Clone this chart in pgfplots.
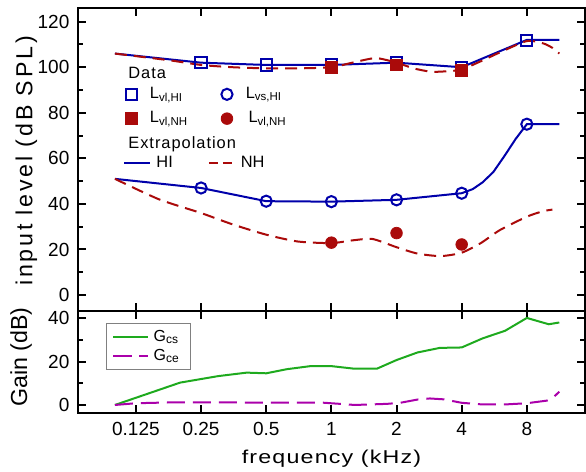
\documentclass[border=0pt]{standalone}
\usepackage{fontspec}
\setmainfont{Liberation Sans}
\usepackage{pgfplots}
\pgfplotsset{compat=1.18}
\definecolor{cblue}{RGB}{0,0,170}
\definecolor{cred}{RGB}{170,10,10}
\definecolor{cgreen}{RGB}{30,170,30}
\definecolor{cmag}{RGB}{170,0,170}
\begin{document}
\begin{tikzpicture}
\useasboundingbox (0,0) rectangle (293pt,236pt);
% ---------------- upper panel ----------------
\begin{axis}[
  scale only axis, width=253.5pt, height=151.5pt,
  at={(39pt,80.5pt)}, anchor=south west,
  xmode=log, log basis x=2, xmin=0.0675, xmax=14.85,
  xtick={0.125,0.25,0.5,1,2,4,8},
  minor x tick num=0,
  tick align=inside,
  major tick length=4pt, minor tick length=2.5pt,
  axis line style={line width=1.2pt},
  every tick/.style={line width=1pt, black},
  /pgf/number format/assume math mode=true,
  tick label style={font=\fontsize{9.5}{11}\selectfont},
  yticklabel style={xshift=-0.8pt},
  ymin=-7, ymax=126,
  ytick={0,20,...,120}, minor ytick={10,30,...,110},
  xticklabels={},
  ylabel={\fontsize{11.6}{13}\selectfont\addfontfeature{LetterSpace=12}input level (dB SPL)},
  ylabel style={at={(axis description cs:-0.102,0.495)}, anchor=center},
  legend columns=2,
  legend style={draw=none, fill=none, font=\fontsize{8.2}{9}\selectfont,
    at={(axis description cs:0.0927,0.675)}, anchor=west, inner sep=0pt,
    row sep=4pt, nodes={inner ysep=0.5pt, inner xsep=2.5pt},
    /tikz/column 1/.style={column sep=4pt},
    /tikz/column 2/.style={column sep=14pt},
    /tikz/column 3/.style={column sep=4pt}},
  legend cell align=left,
]
% extrapolation lines
\addplot[cblue, line width=1pt, forget plot] coordinates {
(0.1,106) (0.25,102) (0.5,101) (1,101) (2,102) (4,100) (8,112) (11.3,112)};
\addplot[cblue, line width=1pt, forget plot] coordinates {
(0.1,51) (0.25,47) (0.5,41.2) (1,41) (2,41.8) (4,44.7) (4.5,46.5) (5,49.5) (5.6,54) (6.3,61) (7.1,68.5) (8,75) (11.3,75)};
\addplot[cred, line width=1pt, dash pattern=on 6pt off 3.5pt, smooth, tension=0.4, forget plot] coordinates {
(0.1,106) (0.18,103) (0.25,101) (0.35,100) (0.5,99.5) (0.7,99.5) (1,100) (1.25,102) (1.6,104) (2,102) (2.4,99.5) (2.9,98) (3.5,98.3) (4,99) (5,103) (6,106.5) (8,111.5) (9.5,110.5) (10.5,108.5) (11.3,106)};
\addplot[cred, line width=1pt, dash pattern=on 6pt off 3.5pt, smooth, tension=0.4, forget plot] coordinates {
(0.1,51) (0.16,42) (0.25,36) (0.35,31) (0.5,26.5) (0.7,23.5) (1,22.8) (1.25,24) (1.55,24.6) (2,21) (2.5,18.2) (3.2,17.1) (4,18.6) (4.9,22.8) (6,28.5) (8,34.4) (9.5,36.8) (10.5,37.5)};
% data markers
\addplot[only marks, mark=square, mark size=2.8pt, cblue, mark options={fill=white, line width=1pt}, forget plot] coordinates {
(0.25,102.2) (0.5,101) (1,101) (2,102) (4,100) (8,111.8)};
\addplot[only marks, mark=square*, mark size=2.9pt, cred, forget plot] coordinates {
(1,100) (2,101) (4,98.7)};
\addplot[only marks, mark=o, mark size=2.8pt, cblue, mark options={fill=white, line width=1pt}, forget plot] coordinates {
(0.25,47) (0.5,41.2) (1,41) (2,41.8) (4,44.7) (8,75)};
\addplot[only marks, mark=*, mark size=2.9pt, cred, forget plot] coordinates {
(1,23) (2,27.2) (4,22.2)};
% legend (data)
\addlegendimage{only marks, mark=square, mark size=2.8pt, cblue, mark options={fill=white, line width=1pt}}
\addlegendentry{L\textsubscript{vl,HI}}
\addlegendimage{only marks, mark=o, mark size=2.8pt, cblue, mark options={fill=white, line width=1pt}}
\addlegendentry{L\textsubscript{vs,HI}}
\addlegendimage{only marks, mark=square*, mark size=2.9pt, cred}
\addlegendentry{L\textsubscript{vl,NH}}
\addlegendimage{only marks, mark=*, mark size=2.9pt, cred}
\addlegendentry{\,L\textsubscript{vl,NH}}
\node[anchor=west, inner sep=0pt, font=\fontsize{8.2}{9}\selectfont\addfontfeature{LetterSpace=6}] at (axis description cs:0.0986,0.7855) {Data};
\node[anchor=west, inner sep=0pt, font=\fontsize{8.2}{9}\selectfont\addfontfeature{LetterSpace=6}] at (axis description cs:0.0986,0.551) {Extrapolation};
\end{axis}
% ---------------- extrapolation legend (hidden axis) ----------------
\begin{axis}[scale only axis, width=253.5pt, height=151.5pt, at={(39pt,80.5pt)}, anchor=south west,
  hide axis, xmin=0, xmax=1, ymin=0, ymax=1,
  legend columns=2,
  legend style={draw=none, fill=none, font=\fontsize{8.2}{9}\selectfont,
    at={(axis description cs:0.0888,0.488)}, anchor=west, inner sep=0pt,
    nodes={inner ysep=0.5pt, inner xsep=2.5pt},
    /tikz/column 2/.style={column sep=15pt}},
  legend cell align=left,
  legend image code/.code={\draw[#1] (0pt,0pt) -- (13pt,0pt);},
]
\addlegendimage{cblue, line width=1pt}
\addlegendentry{HI}
\addlegendimage{cred, line width=1pt, dash pattern=on 4.5pt off 2.5pt}
\addlegendentry{NH}
\end{axis}
% ---------------- lower panel ----------------
\begin{axis}[
  scale only axis, width=253.5pt, height=51pt,
  at={(39pt,29.5pt)}, anchor=south west,
  xmode=log, log basis x=2, xmin=0.0675, xmax=14.85,
  xtick={0.125,0.25,0.5,1,2,4,8},
  minor x tick num=0,
  tick align=inside,
  major tick length=4pt, minor tick length=2.5pt,
  axis line style={line width=1.2pt},
  every tick/.style={line width=1pt, black},
  /pgf/number format/assume math mode=true,
  tick label style={font=\fontsize{9.5}{11}\selectfont},
  yticklabel style={xshift=-0.8pt},
  xticklabel style={yshift=-1.3pt},
  ymin=-3.7, ymax=43.3,
  ytick={0,20,40}, minor ytick={10,30},
  xticklabels={0.125,0.25,0.5,1,2,4,8},
  ylabel={\fontsize{11.6}{13}\selectfont Gain (dB)},
  ylabel style={at={(axis description cs:-0.112,0.55)}, anchor=center},
  xlabel={\fontsize{9.3}{11}\selectfont\scalebox{1.25}[1]{\addfontfeature{LetterSpace=5}frequency (kHz)}},
  xlabel style={at={(axis description cs:0.5,0)}, yshift=-23pt, anchor=center},
  legend style={draw=gray, line width=0.6pt, fill=white, font=\fontsize{8}{9}\selectfont,
    at={(axis description cs:0.055,0.882)}, anchor=north west,
    nodes={inner ysep=1.2pt, inner xsep=2.5pt}, row sep=0pt},
  legend cell align=left,
]
\addplot[cgreen, line width=1pt] coordinates {
(0.1,0) (0.2,10.3) (0.3,13.3) (0.406,14.9) (0.5,14.6) (0.624,16.5) (0.8,17.9) (1,17.9) (1.28,16.7) (1.63,16.8) (2,20.7) (2.5,24.2) (3.17,26.3) (4,26.5) (5,30.7) (6.35,34.2) (8,40.1) (10.1,37.2) (11.3,38)};
\addlegendentry{G\textsubscript{cs}}
\addplot[cmag, line width=1pt, dash pattern=on 9pt off 4pt] coordinates {
(0.1,0) (0.125,0.8) (0.185,1.2) (0.25,1.2) (0.5,1.1) (0.9,1.1) (1.1,0.5) (1.28,0) (1.8,0.5) (2.08,1) (2.5,2.5) (2.85,3) (3.3,2.6) (4,1) (4.9,0.3) (6.5,0.3) (8,0.8) (9.9,2) (10.6,3.5) (11.3,6.1)};
\addlegendentry{G\textsubscript{ce}}
\end{axis}
\end{tikzpicture}
\end{document}
